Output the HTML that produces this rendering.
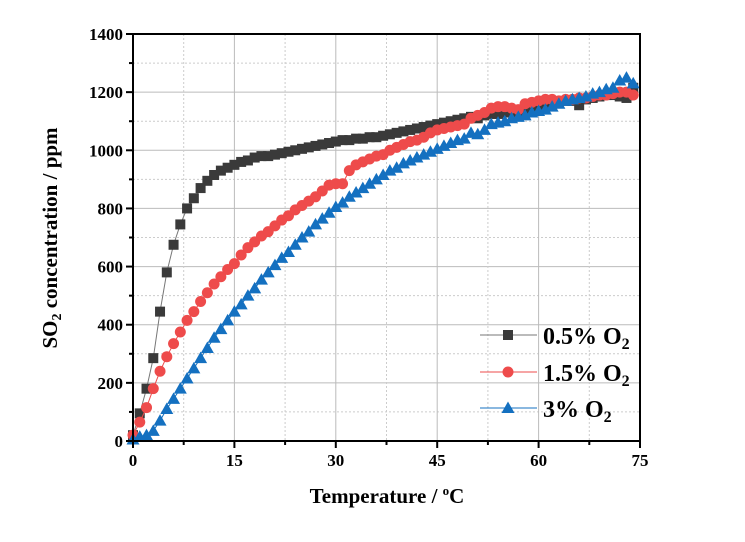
<!DOCTYPE html>
<html><head><meta charset="utf-8"><style>
body{margin:0;background:#fff}
svg{font-family:"Liberation Serif",serif;font-weight:bold}
</style></head><body>
<svg id="c" width="745" height="537"></svg>
<script>
const xTicks=[0,15,30,45,60,75];
const yTicks=[0,200,400,600,800,1000,1200,1400];
const temps=[];for(let i=0;i<=74;i++)temps.push(i);
const s05=[20,95,180,285,445,580,675,745,800,835,870,895,915,930,940,950,960,965,975,980,980,985,990,995,1000,1005,1010,1015,1020,1025,1030,1035,1035,1040,1040,1045,1045,1050,1055,1060,1065,1070,1075,1080,1085,1090,1095,1100,1105,1110,1115,1110,1120,1125,1125,1130,1130,1135,1140,1145,1150,1155,1160,1165,1170,1170,1155,1175,1180,1185,1190,1190,1185,1180,1215];
const s15=[20,65,115,180,240,290,335,375,415,445,480,510,540,565,590,610,640,665,685,705,720,740,760,775,795,810,825,840,860,880,885,885,930,950,960,970,980,985,1000,1010,1020,1030,1035,1045,1060,1070,1075,1080,1085,1090,1110,1120,1130,1145,1150,1150,1145,1140,1160,1165,1170,1175,1175,1170,1175,1175,1180,1180,1185,1190,1190,1195,1200,1200,1190];
const s3=[5,15,20,35,70,110,145,180,215,250,285,320,355,385,415,445,470,500,525,555,580,605,630,650,675,700,720,745,765,785,805,820,840,855,870,885,900,915,930,940,955,965,975,985,995,1005,1015,1025,1035,1040,1060,1055,1070,1090,1095,1100,1110,1115,1120,1130,1135,1140,1150,1160,1170,1175,1180,1185,1195,1200,1210,1215,1240,1250,1230];
const L=133,R=640,T=34,B=441;
const X=v=>L+(v/75)*(R-L), Y=v=>B-(v/1400)*(B-T);
const svg=document.getElementById('c');const NS='http://www.w3.org/2000/svg';
function el(t,a,txt){const e=document.createElementNS(NS,t);for(const k in a)e.setAttribute(k,a[k]);if(txt!=null)e.textContent=txt;svg.appendChild(e);return e;}
for(let v=100;v<1400;v+=100){const g=el('line',{x1:L,x2:R,y1:Y(v),y2:Y(v),stroke:v%200?'#ccc':'#bbb','stroke-width':1,'stroke-dasharray':v%200?'2,2':''});

}
for(let v=7.5;v<75;v+=7.5){const g=el('line',{x1:X(v),x2:X(v),y1:T,y2:B,stroke:v%15?'#ccc':'#bbb','stroke-width':1,'stroke-dasharray':v%15?'2,2':''});

}
const series=[[s05,'#3a3a3a','#777','square','series-0.5-o2'],[s15,'#ee4b4b','#ee4b4b','circle','series-1.5-o2'],[s3,'#1470c0','#1470c0','tri','series-3-o2']];
function marker(sh,x,y,c,name){let m;
if(sh=='square')m=el('rect',{x:x-5,y:y-5,width:10,height:10,fill:c});
else if(sh=='circle')m=el('circle',{cx:x,cy:y,r:5.5,fill:c});
else m=el('polygon',{points:`${x},${y-6.5} ${x-6.5},${y+5} ${x+6.5},${y+5}`,fill:c});

return m;}
series.forEach(([d,c,lc,sh,name])=>{
 const p=el('polyline',{points:d.map((v,i)=>X(temps[i])+','+Y(v)).join(' '),fill:'none',stroke:lc,'stroke-width':1});
 
 
 d.forEach((v,i)=>marker(sh,X(temps[i]),Y(v),c,name+'-point'));
});
const f=el('rect',{x:L,y:T,width:R-L,height:B-T,fill:'none',stroke:'#000','stroke-width':2});


for(let v=0;v<=1400;v+=100){const t=el('line',{x1:L,x2:L-(v%200?4:7),y1:Y(v),y2:Y(v),stroke:'#000','stroke-width':2});

}
for(let v=0;v<=75;v+=7.5){const t=el('line',{x1:X(v),x2:X(v),y1:B,y2:B+(v%15?4:7),stroke:'#000','stroke-width':2});

}
yTicks.forEach(v=>{const t=el('text',{x:L-10,y:Y(v)+6,'text-anchor':'end','font-size':17},v);

});
xTicks.forEach(v=>{const t=el('text',{x:X(v),y:B+25,'text-anchor':'middle','font-size':17},v);

});
</script>
<svg width="745" height="537" style="position:absolute;left:0;top:0">
<text x="387" y="503" text-anchor="middle" font-size="21">Temperature / <tspan dy="-8" font-size="13">o</tspan><tspan dy="8">C</tspan></text>
<text transform="translate(57,238) rotate(-90)" text-anchor="middle" font-size="21">SO<tspan font-size="14" dy="4">2</tspan><tspan dy="-4"> concentration / ppm</tspan></text>
<g font-size="24">
<line x1="480" x2="537" y1="335" y2="335" stroke="#777"/><rect x="503" y="330" width="10" height="10" fill="#3a3a3a"/>
<text x="543" y="344">0.5% O<tspan font-size="16" dy="5">2</tspan></text>
<line x1="480" x2="537" y1="372" y2="372" stroke="#ee4b4b"/><circle cx="508" cy="372" r="5.5" fill="#ee4b4b"/>
<text x="543" y="381">1.5% O<tspan font-size="16" dy="5">2</tspan></text>
<line x1="480" x2="537" y1="408" y2="408" stroke="#1470c0"/><polygon points="508,401.5 501.5,413 514.5,413" fill="#1470c0"/>
<text x="543" y="417">3% O<tspan font-size="16" dy="5">2</tspan></text>
</g>
</svg>
</body></html>
